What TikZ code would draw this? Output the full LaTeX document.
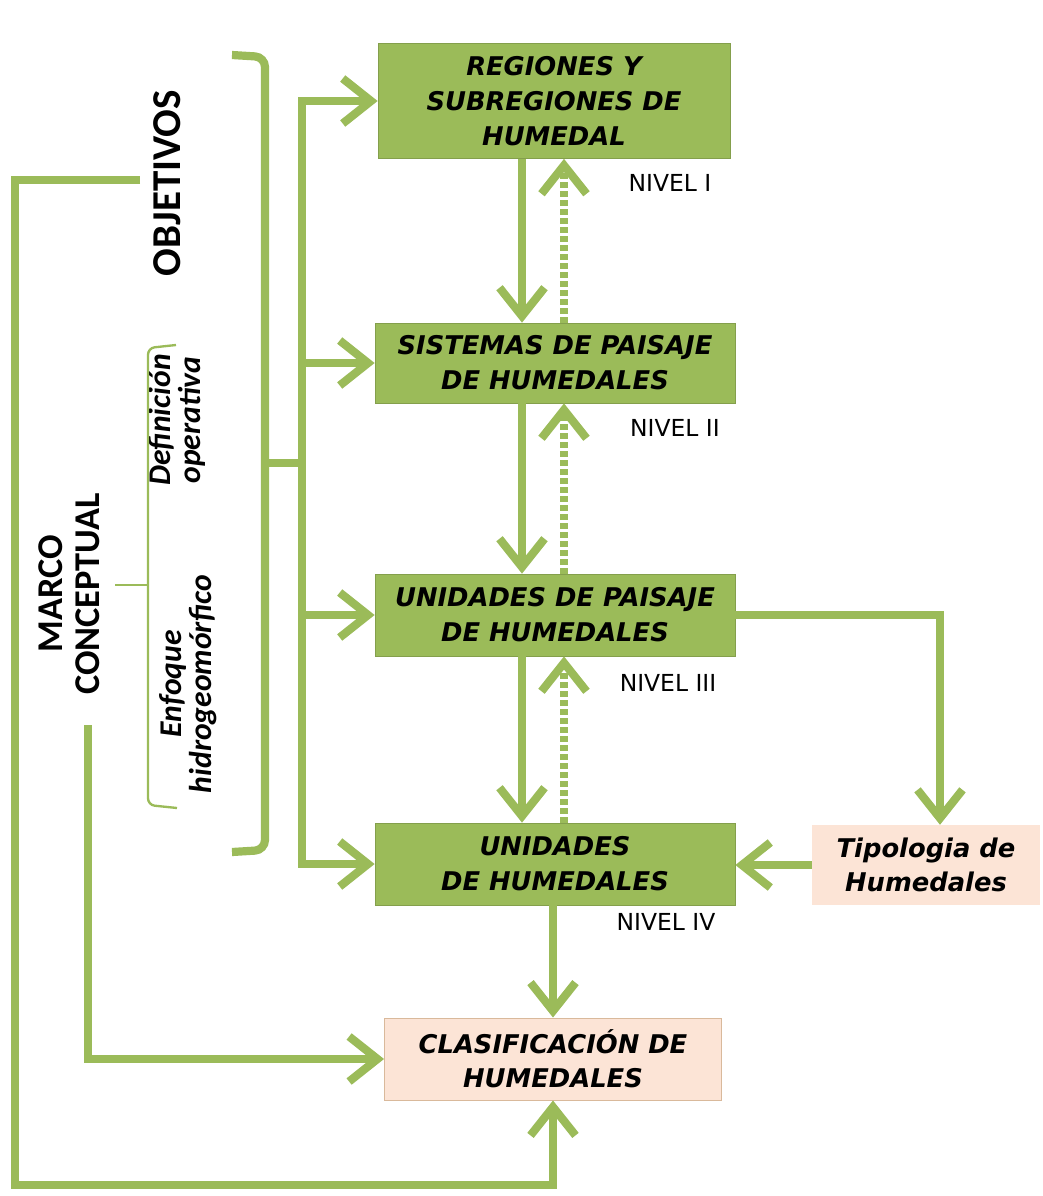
\documentclass[tikz,border=0pt]{standalone}
\usepackage{fontspec}
\setmainfont{DejaVu Sans}
\newfontfamily\calfont{Carlito}
\usetikzlibrary{arrows.meta}
\definecolor{hgreen}{HTML}{9BBB59}
\definecolor{hpeach}{HTML}{FCE4D6}
\definecolor{hpeachline}{HTML}{D9B99B}
\tikzset{
	greenbox/.style={fill=hgreen, draw=hgreen!85!black, line width=0.6pt, inner sep=0pt, align=center, font=\bfseries\itshape\fontsize{22}{30}\selectfont},
	peachbox/.style={fill=hpeach, inner sep=0pt, align=center, font=\bfseries\itshape\fontsize{22}{29}\selectfont},
	nivel/.style={font=\fontsize{20}{22}\selectfont},
	arr/.style={draw=hgreen, line width=7pt, -{Straight Barb[length=0.85cm,width=1.35cm]}},
	dotarr/.style={arr, dash pattern=on 0.17cm off 0.1cm},
	bracket/.style={draw=hgreen, line width=7pt, rounded corners=0.3cm},
	thinbracket/.style={draw=hgreen, line width=2pt, rounded corners=0.2cm},
	vtext/.style={rotate=90, align=center, inner sep=0pt}
}
\begin{document}
\begin{tikzpicture}[x=0.03cm,y=-0.03cm]
		\useasboundingbox (0,0) rectangle (1043,1196);

		\node[greenbox, minimum width=10.56cm, minimum height=3.45cm] (reg) at (554,101) {REGIONES Y\\SUBREGIONES DE\\HUMEDAL};
		\node[greenbox, minimum width=10.8cm, minimum height=2.4cm] (sis) at (555,363) {SISTEMAS DE PAISAJE\\DE HUMEDALES};
		\node[greenbox, minimum width=10.8cm, minimum height=2.46cm] (upa) at (555,615) {UNIDADES DE PAISAJE\\DE HUMEDALES};
		\node[greenbox, minimum width=10.8cm, minimum height=2.46cm] (uhu) at (555,864) {UNIDADES\\DE HUMEDALES};
		\node[peachbox, minimum width=6.84cm, minimum height=2.4cm] (tip) at (926,865) {Tipologia de\\Humedales};
		\node[peachbox, draw=hpeachline, line width=0.8pt, minimum width=10.11cm, minimum height=2.46cm] (cla) at (553,1059) {CLASIFICACIÓN DE\\HUMEDALES};

		\node[nivel] (n1) at (670,183) {NIVEL I};
		\node[nivel] (n2) at (675,428) {NIVEL II};
		\node[nivel] (n3) at (668,683) {NIVEL III};
		\node[nivel] (n4) at (666,922) {NIVEL IV};

		\node[vtext, font=\calfont\bfseries\fontsize{35}{40}\selectfont] (obj) at (167,183) {OBJETIVOS};
		\node[vtext, font=\calfont\bfseries\fontsize{31}{32}\selectfont] (mar) at (69,594) {MARCO\\CONCEPTUAL};
		\node[vtext, font=\calfont\bfseries\itshape\fontsize{27}{26}\selectfont] (def) at (177,420) {Definición\\operativa};
		\node[vtext, font=\calfont\bfseries\itshape\fontsize{27}{26}\selectfont] (enf) at (188,684) {Enfoque\\hidrogeomórfico};

		\coordinate (cdown) at (522,0);
		\coordinate (cup) at (564,0);
		\draw[arr] (reg.south -| cdown) -- (sis.north -| cdown);
		\draw[dotarr] (sis.north -| cup) -- (reg.south -| cup);
		\draw[arr] (sis.south -| cdown) -- (upa.north -| cdown);
		\draw[dotarr] (upa.north -| cup) -- (sis.south -| cup);
		\draw[arr] (upa.south -| cdown) -- (uhu.north -| cdown);
		\draw[dotarr] (uhu.north -| cup) -- (upa.south -| cup);
		\draw[arr] (uhu.south -| cla.north) -- (cla.north);

		\draw[arr] (upa.east) -| ([xshift=0.42cm]tip.north);
		\draw[arr] (tip.west) -- (tip.west -| uhu.east);

		\coordinate (bmid) at (265,463);
		\coordinate (dmid) at (302,463);
		\draw[arr] (dmid) |- (reg.west);
		\draw[arr] (dmid) |- (uhu.west);
		\draw[arr] (sis.west -| dmid) -- (sis.west);
		\draw[arr] (upa.west -| dmid) -- (upa.west);

		\draw[bracket] (232,55) -- (265,57) -- (265,850) -- (232,852);
		\draw[bracket] (bmid) -- (dmid);

		\draw[thinbracket] (176,345) -- (148,348) -- (148,805) -- (177,808);
		\coordinate (smid) at (148,585);
		\coordinate (sout) at (115,585);
		\draw[thinbracket] (smid) -- (sout);

		\coordinate (lstart) at (140,180);
		\draw[arr] (lstart) -| (15,1185) -| (cla.south);
		\coordinate (mstart) at (88,725);
		\draw[arr] (mstart) |- (cla.west);
	\end{tikzpicture}
\end{document}
